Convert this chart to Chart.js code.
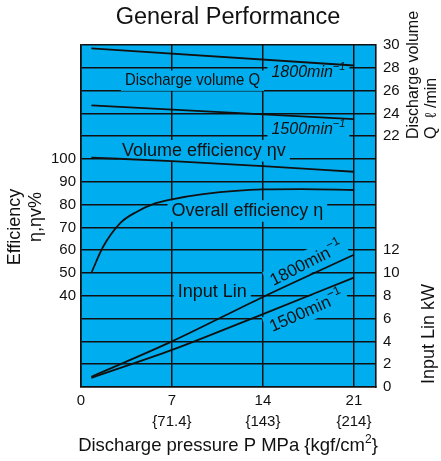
<!DOCTYPE html>
<html>
<head>
<meta charset="utf-8">
<script src="https://cdn.jsdelivr.net/npm/chart.js@4.4.1/dist/chart.umd.min.js"></script>
<style>
  html, body { margin: 0; padding: 0; background: #fff; }
  #wrap { width: 441px; height: 461px; }
</style>
</head>
<body>
<div id="wrap"><canvas id="perf" width="441" height="461"></canvas></div>
<script>
// values
const xTicks = [0, 7, 14, 21];
const xTickLabels = ['0', '7', '14', '21'];
const xTickKgf = ['', '{71.4}', '{143}', '{214}'];
const effTickLabels = [40, 50, 60, 70, 80, 90, 100];
const rightTickLabels = [0, 2, 4, 6, 8, 10, 12, 22, 24, 26, 28, 30];

// discharge volume Q (l/min)
const qPressure = [0.8, 21];
const q1800 = [29.7, 28.2];
const q1500 = [24.7, 23.5];

// volume efficiency (%)
const volPressure = [0.8, 7, 14, 21];
const volEff = [100.6, 99.1, 96.9, 94.4];

// overall efficiency (%)
const ovPressure = [0.8, 1.7, 3, 4.3, 5.5, 7, 9.4, 14, 17, 21];
const ovEff = [50.1, 61.5, 71.8, 76.9, 80.1, 82.3, 84.6, 86.7, 86.8, 86.4];

// input power (kW)
const inPressure = [0.8, 7, 14, 21];
const in1800 = [0.9, 4.0, 7.9, 11.6];
const in1500 = [0.8, 3.25, 6.4, 9.6];

const BLUE = '#00aeef';
const INK = '#111';
const FONT = "'Liberation Sans', Arial, sans-serif";

const pts = (xs, ys) => xs.map((x, i) => ({ x: x, y: ys[i] }));

const line = (data, axis, smooth) => ({
    data: data,
    yAxisID: axis,
    borderColor: INK,
    borderWidth: 1.8,
    pointRadius: 0,
    fill: false,
    tension: 0,
    cubicInterpolationMode: smooth ? 'monotone' : 'default',
});

// text with a blue box behind it so the grid is cut
function maskedText(ctx, text, cx, cy, size, opts) {
    opts = opts || {};
    ctx.font = (opts.italic ? 'italic ' : '') + size + 'px ' + FONT;
    let w = ctx.measureText(text).width;
    let sx = opts.width ? opts.width / w : 1;
    let boxW = (opts.width || w) + 8;
    ctx.save();
    ctx.translate(cx, cy);
    ctx.fillStyle = BLUE;
    ctx.fillRect(-boxW / 2, -size * 0.6, boxW, size * 1.2);
    ctx.scale(sx, 1);
    ctx.fillStyle = INK;
    ctx.textAlign = 'center';
    ctx.textBaseline = 'middle';
    ctx.fillText(text, 0, 0);
    ctx.restore();
}

// "1800min-1" style label, optionally rotated
function minLabel(ctx, num, cx, cy, size, opts) {
    opts = opts || {};
    let base = num + 'min';
    let sup = '\u22121';
    let supSize = Math.round(size * 0.68);
    let style = opts.italic ? 'italic ' : '';
    ctx.save();
    ctx.font = style + size + 'px ' + FONT;
    let wb = ctx.measureText(base).width;
    ctx.font = style + supSize + 'px ' + FONT;
    let ws = ctx.measureText(sup).width;
    let total = wb + ws;
    ctx.translate(cx, cy);
    if (opts.angle) ctx.rotate(opts.angle * Math.PI / 180);
    ctx.fillStyle = BLUE;
    ctx.fillRect(-total / 2 - 4, -size * 0.75, total + 8, size * 1.35);
    ctx.fillStyle = INK;
    ctx.textAlign = 'left';
    ctx.textBaseline = 'middle';
    ctx.font = style + size + 'px ' + FONT;
    ctx.fillText(base, -total / 2, 0);
    ctx.font = style + supSize + 'px ' + FONT;
    ctx.fillText(sup, -total / 2 + wb, -size * 0.38);
    ctx.restore();
}

const decor = {
    id: 'decor',
    beforeDraw(chart) {
        const { ctx, chartArea: a } = chart;
        ctx.save();
        ctx.fillStyle = '#fff';
        ctx.fillRect(0, 0, chart.width, chart.height);
        ctx.fillStyle = BLUE;
        ctx.fillRect(a.left, a.top, a.right - a.left, a.bottom - a.top);
        ctx.restore();
    },
    beforeDatasetsDraw(chart) {
        const ctx = chart.ctx;
        const x = chart.scales.x, yL = chart.scales.yL, yR = chart.scales.yR;
        maskedText(ctx, 'Discharge volume Q', x.getPixelForValue(8.58), yR.getPixelForValue(26.87), 17, { width: 135 });
        minLabel(ctx, '1800', x.getPixelForValue(17.5), yR.getPixelForValue(27.55), 16, { italic: true });
        minLabel(ctx, '1500', x.getPixelForValue(17.5), yR.getPixelForValue(22.54), 16, { italic: true });
        maskedText(ctx, 'Volume efficiency \u03b7v', x.getPixelForValue(9.46), yL.getPixelForValue(103.6), 18);
        maskedText(ctx, 'Overall efficiency \u03b7', x.getPixelForValue(12.8), yL.getPixelForValue(77.2), 18);
        maskedText(ctx, 'Input Lin', x.getPixelForValue(10.1), yR.getPixelForValue(8.36), 18);
        minLabel(ctx, '1800', x.getPixelForValue(17.36), yR.getPixelForValue(10.8), 17, { angle: -27 });
        minLabel(ctx, '1500', x.getPixelForValue(17.36), yR.getPixelForValue(6.6), 17, { angle: -24 });
    },
    afterDraw(chart) {
        const ctx = chart.ctx;
        ctx.save();
        ctx.fillStyle = INK;
        ctx.textBaseline = 'middle';

        ctx.textAlign = 'center';
        ctx.font = '23.5px ' + FONT;
        ctx.fillText('General Performance', 228, 18);

        // x axis title with superscript 2
        ctx.font = '18.5px ' + FONT;
        let t1 = 'Discharge pressure P MPa {kgf/cm';
        let w1 = ctx.measureText(t1).width;
        ctx.font = '12px ' + FONT;
        let w2 = ctx.measureText('2').width;
        ctx.font = '18.5px ' + FONT;
        let w3 = ctx.measureText('}').width;
        let sx = 228 - (w1 + w2 + w3) / 2;
        ctx.textAlign = 'left';
        ctx.fillText(t1, sx, 446);
        ctx.font = '12px ' + FONT;
        ctx.fillText('2', sx + w1, 440);
        ctx.font = '18.5px ' + FONT;
        ctx.fillText('}', sx + w1 + w2, 446);

        // left title
        ctx.font = '18px ' + FONT;
        ctx.textAlign = 'center';
        ctx.save();
        ctx.translate(15, 227);
        ctx.rotate(-Math.PI / 2);
        ctx.fillText('Efficiency', 0, 0);
        ctx.restore();
        ctx.save();
        ctx.translate(36, 217);
        ctx.rotate(-Math.PI / 2);
        ctx.fillText('\u03b7,\u03b7v%', 0, 0);
        ctx.restore();

        // right titles
        ctx.font = '16px ' + FONT;
        ctx.textAlign = 'left';
        ctx.save();
        ctx.translate(414, 139);
        ctx.rotate(-Math.PI / 2);
        ctx.fillText('Discharge volume', 0, 0);
        ctx.restore();
        ctx.save();
        ctx.translate(432, 139);
        ctx.rotate(-Math.PI / 2);
        ctx.fillText('Q  \u2113 /min', 0, 0);
        ctx.restore();

        ctx.font = '18px ' + FONT;
        ctx.textAlign = 'center';
        ctx.save();
        ctx.translate(429, 334);
        ctx.rotate(-Math.PI / 2);
        ctx.fillText('Input Lin kW', 0, 0);
        ctx.restore();

        ctx.restore();
    }
};

new Chart(document.getElementById('perf'), {
    type: 'line',
    data: {
        datasets: [
            line(pts(qPressure, q1800), 'yR', false),
            line(pts(qPressure, q1500), 'yR', false),
            line(pts(volPressure, volEff), 'yL', true),
            line(pts(ovPressure, ovEff), 'yL', true),
            line(pts(inPressure, in1800), 'yR', true),
            line(pts(inPressure, in1500), 'yR', true),
        ],
    },
    options: {
        responsive: false,
        animation: false,
        events: [],
        layout: { padding: { top: 45, left: 0, right: 0, bottom: 0 } },
        plugins: { legend: { display: false }, title: { display: false }, tooltip: { enabled: false } },
        scales: {
            x: {
                type: 'linear',
                min: 0,
                max: 22.7,
                afterBuildTicks: (s) => { s.ticks = xTicks.map((v) => ({ value: v })); },
                afterFit: (s) => { s.height = 74; },
                ticks: {
                    autoSkip: false,
                    maxRotation: 0,
                    padding: 3,
                    color: INK,
                    font: { family: FONT, size: 15, lineHeight: 1.4 },
                    callback: (v) => {
                        const i = xTicks.indexOf(v);
                        return xTickKgf[i] ? [xTickLabels[i], xTickKgf[i]] : xTickLabels[i];
                    },
                },
                grid: { color: INK, lineWidth: 1.5, drawTicks: false },
                border: { color: INK, width: 1.6 },
            },
            yL: {
                position: 'left',
                min: 0,
                max: 150,
                afterFit: (s) => { s.width = 81; },
                ticks: {
                    stepSize: 10,
                    autoSkip: false,
                    padding: 5,
                    color: INK,
                    font: { family: FONT, size: 15 },
                    callback: (v) => (effTickLabels.includes(v) ? String(v) : ''),
                },
                grid: { color: INK, lineWidth: 1.5, drawTicks: false },
                border: { color: INK, width: 1.6 },
            },
            yR: {
                position: 'right',
                min: 0,
                max: 30,
                afterFit: (s) => { s.width = 65; },
                ticks: {
                    stepSize: 2,
                    autoSkip: false,
                    padding: 7,
                    color: INK,
                    font: { family: FONT, size: 15 },
                    callback: (v) => (rightTickLabels.includes(v) ? String(v) : ''),
                },
                grid: { display: false, drawTicks: false },
                border: { color: INK, width: 1.6 },
            },
        },
    },
    plugins: [decor],
});
</script>
</body>
</html>
